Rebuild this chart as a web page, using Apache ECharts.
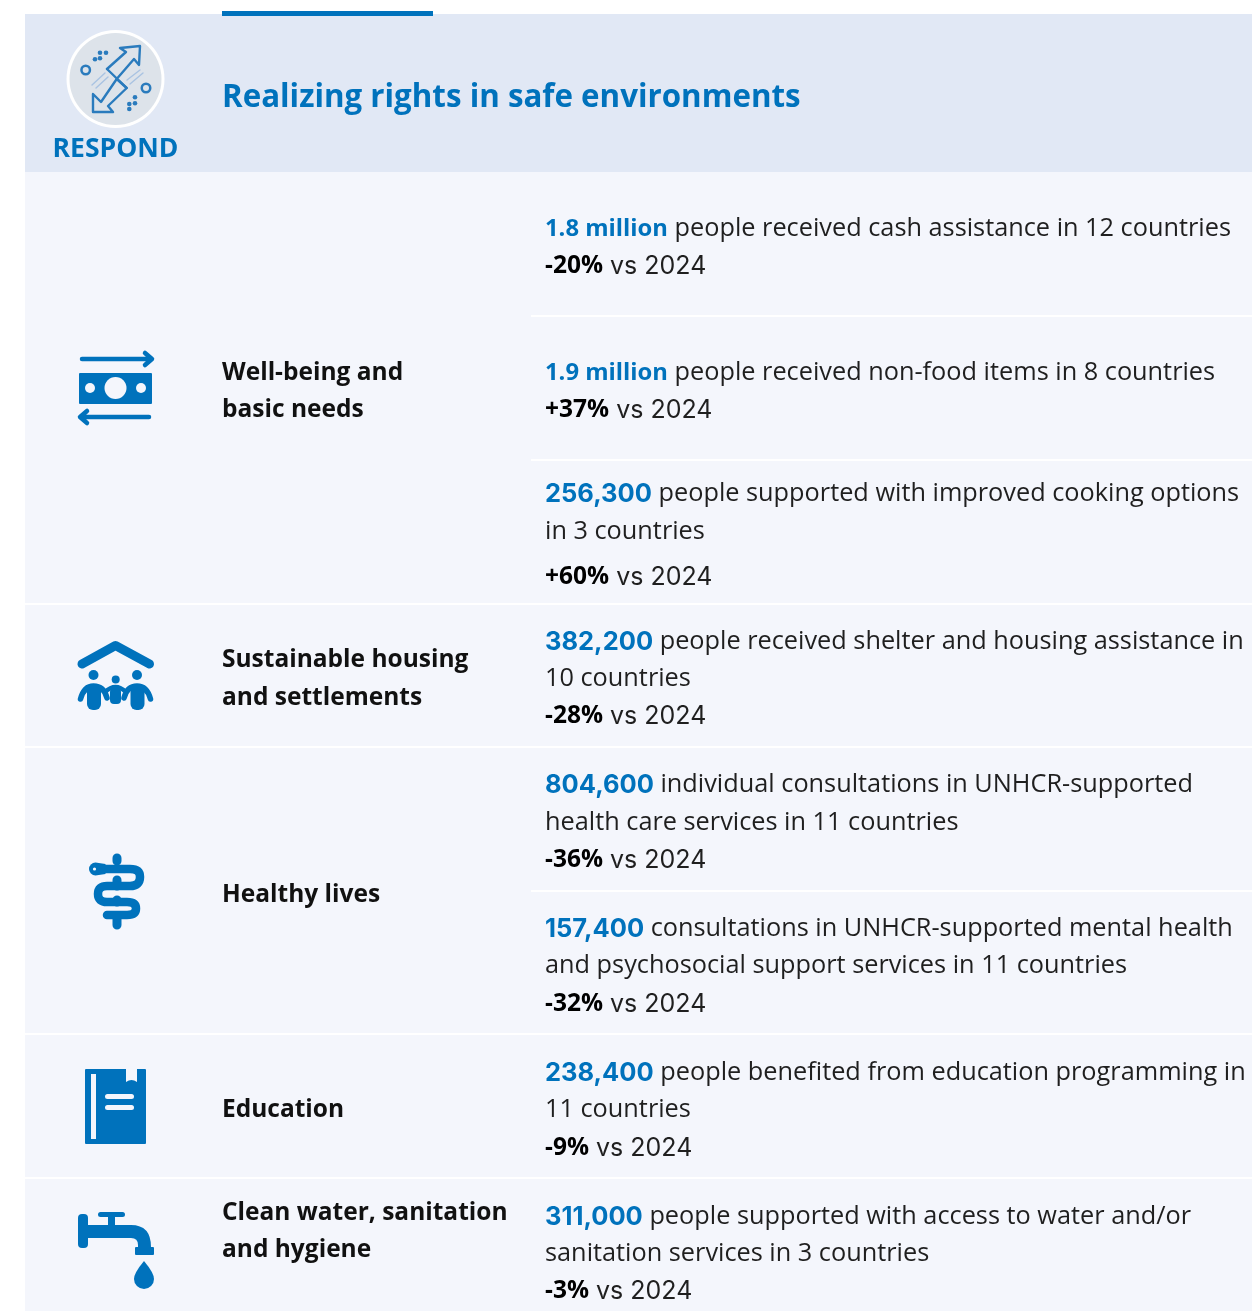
<!DOCTYPE html>
<html>
<head>
<meta charset="utf-8">
<title>Realizing rights in safe environments</title>
<script src="https://cdn.jsdelivr.net/npm/echarts@6/dist/echarts.min.js"></script>
<style>
html, body { margin: 0; padding: 0; background: #fff; }
#chart { width: 1252px; height: 1311px; }
</style>
</head>
<body>
<div id="chart"></div>
<script>
// content
const header_tag = 'RESPOND';
const header_title = 'Realizing rights in safe environments';
const themes = [
    ['Well-being and', 'basic needs'],
    ['Sustainable housing', 'and settlements'],
    ['Healthy lives'],
    ['Education'],
    ['Clean water, sanitation', 'and hygiene'],
];
const highlights = ['1.8 million', '1.9 million', '256,300', '382,200', '804,600', '157,400', '238,400', '311,000'];
const statements = [
    ['people received cash assistance in 12 countries'],
    ['people received non-food items in 8 countries'],
    ['people supported with improved cooking options', 'in 3 countries'],
    ['people received shelter and housing assistance in', '10 countries'],
    ['individual consultations in UNHCR-supported', 'health care services in 11 countries'],
    ['consultations in UNHCR-supported mental health', 'and psychosocial support services in 11 countries'],
    ['people benefited from education programming in', '11 countries'],
    ['people supported with access to water and/or', 'sanitation services in 3 countries'],
];
const changes = ['-20%', '+37%', '+60%', '-28%', '-36%', '-32%', '-9%', '-3%'];
const change_suffix = 'vs 2024';

// layout, pixels
const FONT = 'Open Sans';
const FONT_DIGITS = 'Inter';
const BLUE = '#0072bc';
const PAGE = '#f4f6fc';
const theme_y = [[373, 410], [660, 698], [895], [1110], [1213, 1250]];
const statement_y = [[229], [373], [494, 532], [642, 679], [785, 823], [929, 966], [1073, 1110], [1217, 1254]];
const change_y = [266, 410, 577, 716, 860, 1004, 1148, 1291];
const full_rules = [604, 747, 1034, 1178];
const part_rules = [316, 460, 891];

function rect(x, y, w, h, fill, r) {
    return { type: 'rect', shape: { x: x, y: y, width: w, height: h, r: r || 0 }, style: { fill: fill }, silent: true };
}
function circle(cx, cy, r, fill) {
    return { type: 'circle', shape: { cx: cx, cy: cy, r: r }, style: { fill: fill }, silent: true };
}
function stroke_path(d, width, color) {
    return { type: 'path', shape: { pathData: d }, style: { fill: null, stroke: color || BLUE, lineWidth: width, lineCap: 'round', lineJoin: 'round' }, silent: true };
}
function fill_path(d, fill) {
    return { type: 'path', shape: { pathData: d }, style: { fill: fill || BLUE }, silent: true };
}
function text(x, y, content, size, weight, color, align, rich) {
    return {
        type: 'text', x: x, y: y, silent: true,
        style: { text: content, fontFamily: FONT, fontSize: size, fontWeight: weight, fill: color, align: align || 'left', verticalAlign: 'middle', rich: rich }
    };
}

function respond_icon() {
    const line = '#2a7bbd', pale = '#a9c3e2';
    let g = [circle(115.5, 79, 49, '#fff'), circle(115.5, 79, 46, '#dde3ea')];
    // double arrow
    g.push(stroke_path('M107 69 L126 52 L120 48 L140 46 L139 65 L134 59 L116.7 79 L126.7 88 L108 106 L113 112 L93 112 L93 94 L101 102 L116.7 79', 2.4, line));
    g.push(stroke_path('M107 69 L126.7 88', 2.4, line));
    g.push(circle(85.7, 70, 5.5, line), circle(85.7, 70, 3, '#dde3ea'));
    g.push(circle(146, 88, 5.5, line), circle(146, 88, 3, '#dde3ea'));
    for (let p of [[95, 59.3], [100, 58.3], [100, 52.7], [106, 52.7]]) g.push(circle(p[0], p[1], 2.3, line));
    for (let p of [[129.3, 109], [129.3, 104], [135, 103.3], [135, 97.3]]) g.push(circle(p[0], p[1], 2.3, line));
    g.push(stroke_path('M92 85 L105 73 M96 88 L108 77', 1.4, pale));
    g.push(stroke_path('M127 80 L140 70 M130 84 L143 73', 1.4, pale));
    return g;
}
function money_icon() {
    return [
        stroke_path('M82 359 L151 359 M145 353 L152 359 L145 365', 4.5),
        rect(79, 373, 73, 31, BLUE, 1),
        circle(115.5, 388, 11, PAGE), circle(90, 388, 5, PAGE), circle(141, 388, 5, PAGE),
        stroke_path('M149 417 L81 417 M87 411 L80 417 L87 423', 4.5),
    ];
}
function house_icon() {
    return [
        stroke_path('M82 664 L115.5 645.5 L149.5 664', 9),
        circle(93.5, 675, 5, BLUE), circle(137, 675, 5, BLUE), circle(115.7, 679.5, 4, BLUE),
        rect(87, 684, 14, 26, BLUE, 6), rect(130.5, 684, 14, 26, BLUE, 6), rect(110, 688, 11, 16, BLUE, 4),
        stroke_path('M80.5 699 Q84 686 93.5 686 Q104 686 107 698 M150.5 699 Q147 686 137 686 Q127 686 124 698', 5.5),
        stroke_path('M105 692 Q115.5 682 126 692', 4.5),
    ];
}
function health_icon() {
    return [
        stroke_path('M117 858 L117 861 M117 880 L117 886 M117 900 L117 902 M117 917 L117 925', 9),
        stroke_path('M98 869 L130 869 Q140 869 140 877 Q140 886 130 886 L107 886 Q98 886 98 894 Q98 902 107 902 L127 902 Q136 902 136 908.5 Q136 915 127 915 L107 915', 8.5),
        fill_path('M89 869 a6.5 6.5 0 0 1 6.5 -6.5 l10 1.5 l0 10 l-10 1.5 a6.5 6.5 0 0 1 -6.5 -6.5 Z'),
        circle(94.5, 869, 1.6, PAGE),
    ];
}
function book_icon() {
    return [
        rect(85, 1069, 61, 75, BLUE, 1),
        fill_path('M126 1068 L137 1068 L137 1082 Q131.5 1078 126 1082 Z', PAGE),
        rect(91, 1074, 5, 65, PAGE),
        rect(105, 1094, 29, 5, PAGE, 2.5),
        rect(105, 1105, 29, 5, PAGE, 2.5),
    ];
}
function water_icon() {
    return [
        rect(78, 1214, 10, 34, BLUE, 4),
        rect(98, 1212, 27, 5, BLUE, 2.5),
        rect(108, 1216, 7, 12, BLUE),
        fill_path('M87 1225 L131 1225 Q151 1225 151 1247 L151 1250 L138 1250 L138 1245 Q138 1238 131 1238 L87 1238 Z'),
        rect(135, 1247, 19, 8, BLUE, 1),
        fill_path('M144 1261 Q154 1273 154 1279 A10 10 0 0 1 134 1279 Q134 1273 144 1261 Z'),
    ];
}

let elements = [];
elements.push(rect(25, 172, 1227, 1139, PAGE));
elements.push(rect(25, 14, 1227, 158, '#e1e8f5'));
elements.push(rect(222, 11, 211, 5, BLUE));
for (let y of full_rules) elements.push(rect(25, y - 1, 1227, 2, '#fff'));
for (let y of part_rules) elements.push(rect(531, y - 1, 721, 2, '#fff'));

elements = elements.concat(respond_icon(), money_icon(), house_icon(), health_icon(), book_icon(), water_icon());
elements.push(text(115.5, 149, header_tag, 26.5, 700, BLUE, 'center'));
elements.push(text(222, 98, header_title, 31.3, 700, BLUE));

themes.forEach(function (lines, i) {
    lines.forEach(function (line, j) {
        elements.push(text(222, theme_y[i][j], line, 24.5, 700, '#111'));
    });
});

const body_rich = {
    num: { fontFamily: FONT_DIGITS, fontSize: 25.5, fontWeight: 700, fill: BLUE },
    word: { fontFamily: FONT, fontSize: 23.8, fontWeight: 700, fill: BLUE },
    pct: { fontFamily: FONT, fontSize: 24.5, fontWeight: 700, fill: '#000' },
    txt: { fontFamily: FONT, fontSize: 25.3, fontWeight: 400, fill: '#1f1f1f' },
    vs: { fontFamily: FONT_DIGITS, fontSize: 25, fontWeight: 400, fill: '#1f1f1f' },
};
statements.forEach(function (lines, i) {
    lines.forEach(function (line, j) {
        let tag = highlights[i].indexOf('million') >= 0 ? 'word' : 'num';
        let s = j === 0 ? '{' + tag + '|' + highlights[i] + '}{txt| ' + line + '}' : '{txt|' + line + '}';
        elements.push(text(545, statement_y[i][j], s, 25.3, 400, '#1f1f1f', 'left', body_rich));
    });
    elements.push(text(545, change_y[i], '{pct|' + changes[i] + '}{vs| ' + change_suffix + '}', 25, 400, '#1f1f1f', 'left', body_rich));
});

let myChart = echarts.init(document.getElementById('chart'), null, { renderer: 'canvas', width: 1252, height: 1311 });
myChart.setOption({
    animation: false,
    backgroundColor: '#fff',
    series: [{
        type: 'custom',
        coordinateSystem: 'none',
        silent: true,
        data: [0],
        renderItem: function () {
            return { type: 'group', children: elements };
        },
    }],
});
</script>
</body>
</html>
